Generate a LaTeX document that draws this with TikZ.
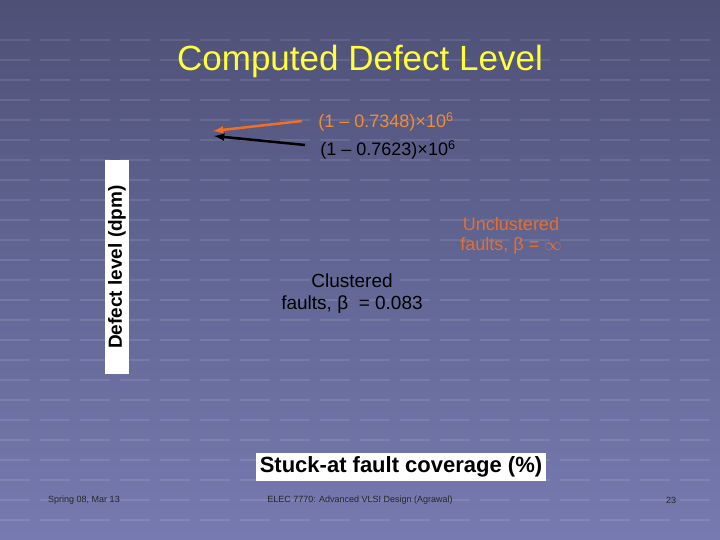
\documentclass[tikz,border=0pt]{standalone}
\usepackage{fontspec}
\setmainfont{Liberation Sans}
\definecolor{bgtop}{RGB}{78,80,118}
\definecolor{bgmid}{RGB}{98,102,148}
\definecolor{bgbot}{RGB}{118,122,176}
\definecolor{titleC}{RGB}{255,255,60}
\definecolor{orangeT}{RGB}{240,140,50}
\definecolor{orangeA}{RGB}{240,110,40}
\definecolor{orangeU}{RGB}{235,110,40}
\begin{document}
\begin{tikzpicture}[x=1pt,y=-1pt,
  lbl/.style={font=\fontsize{18}{20}\selectfont,inner sep=0pt,align=center},
  foot/.style={font=\fontsize{9}{11}\selectfont,text=black!85,inner sep=0pt},
  arr/.style={line width=2.5pt,-latex}]
\useasboundingbox (0,0) rectangle (720,540);
\shade[top color=bgtop, bottom color=bgbot, middle color=bgmid] (0,0) rectangle (720,540);
\foreach \y in {40,60,...,520}{
  \draw[white,opacity=0.1,line width=2pt,dash pattern=on 30pt off 10pt] (0,\y) -- (720,\y);}
\node[text=titleC] (title) at (360,61) {\fontsize{35}{38}\selectfont Computed Defect Level};
\node[lbl,text=orangeT] (a) at (386,122) {(1 -- 0.7348)\texttimes10\textsuperscript{6}};
\node[lbl,text=black] (b) at (388,150) {(1 -- 0.7623)\texttimes10\textsuperscript{6}};
\coordinate (ae) at (213,131);
\coordinate (be) at (214,136);
\draw[arr,orangeA] (302,121) -- (ae);
\draw[arr,black] (305,145) -- (be);
\node[lbl,text=orangeU] (u) at (511,236) {Unclustered\\faults, β = $\infty$};
\node[lbl,text=black,font=\fontsize{19}{22}\selectfont] (c) at (352,294) {Clustered\\faults, β\ \ = 0.083};
\node[fill=white,rotate=90,inner sep=3pt,font=\fontsize{19}{21}\selectfont\bfseries,minimum width=214pt] (yl) at (117,267) {Defect level (dpm)};
\node[fill=white,inner sep=4pt,font=\fontsize{22}{24}\selectfont\bfseries] (xl) at (401,467) {Stuck-at fault coverage (\%)};
\node[foot] (f1) at (84,500) {Spring 08, Mar 13};
\node[foot] (f2) at (360,500) {ELEC 7770: Advanced VLSI Design (Agrawal)};
\node[foot] (f3) at (671,500) {23};
\end{tikzpicture}
\end{document}
